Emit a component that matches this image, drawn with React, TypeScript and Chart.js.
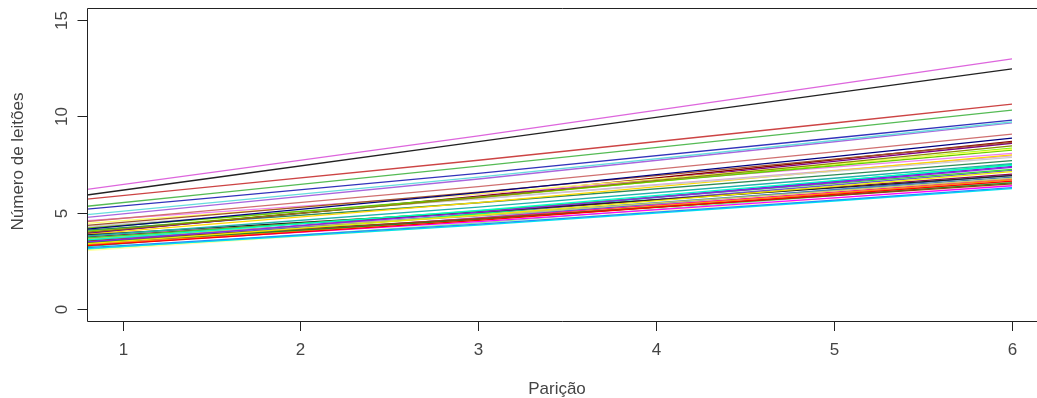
import React, { useEffect, useRef } from "react";
import { Chart, registerables } from "chart.js";

Chart.register(...registerables);

// x positions where each curve is read (left plot edge, x = 3, x = 6)
const xPoints = [0.8, 3, 6];
const xTicks = [1, 2, 3, 4, 5, 6];
const yTicks = [0, 5, 10, 15];

const lineColors = [
  "#dd66dd", "#222222", "#cc4444", "#55bb55", "#3333bb", "#66dddd", "#aa66dd",
  "#d07070", "#000080", "#a0522d", "#8b8b00", "#ffff66", "#66cc00", "#ee82ee",
  "#cccccc", "#800080", "#20b2aa", "#00ffcc", "#8a2be2", "#33dd33", "#eeee00",
  "#222222", "#cccc66", "#ff0000", "#8b4513", "#228b22", "#ff8c00", "#1e90ff",
  "#00e5ee", "#ff00ff", "#ffffaa", "#90ee90", "#8b0a50", "#4682b4", "#ff1493",
  "#9400d3", "#ffd700", "#2e8b57", "#dda0dd", "#8b0000", "#4169e1", "#00ff7f",
  "#d2b48c", "#6a5acd", "#7fff00",
];

// value at the left edge (x = 0.8)
const startValues = [
  6.21, 5.92, 5.71, 5.34, 5.19, 4.91, 4.76,
  4.55, 4.15, 4.35, 4.0, 4.45, 4.2, 4.6,
  4.3, 3.95, 3.8, 3.6, 3.5, 3.7, 3.4,
  3.85, 3.65, 3.3, 3.55, 3.45, 3.35, 3.2,
  3.15, 3.35, 3.05, 3.1, 3.75, 3.6, 3.4,
  3.5, 3.9, 4.1, 4.25, 3.95, 3.3, 3.25,
  3.7, 3.45, 4.05,
];

// value at x = 3
const midValues = [
  8.98, 8.68, 7.72, 7.42, 7.04, 6.85, 6.75,
  6.36, 6.04, 6.07, 5.79, 5.98, 5.81, 5.97,
  5.71, 5.82, 5.29, 5.13, 5.03, 5.1, 4.88,
  5.05, 4.87, 4.61, 4.7, 4.66, 4.67, 4.41,
  4.36, 4.54, 4.39, 4.48, 5.02, 4.87, 4.72,
  5.05, 5.53, 5.52, 5.72, 5.86, 4.74, 4.95,
  4.83, 4.94, 5.77,
];

// value at x = 6
const endValues = [
  12.97, 12.45, 10.62, 10.31, 9.8, 9.7, 9.65,
  9.07, 8.86, 8.65, 8.46, 8.3, 8.25, 8.08,
  7.87, 8.6, 7.55, 7.45, 7.35, 7.25, 7.13,
  6.92, 6.78, 6.64, 6.5, 6.55, 6.7, 6.3,
  6.25, 6.4, 6.45, 6.6, 7.0, 6.85, 6.75,
  7.4, 8.0, 7.7, 7.95, 8.7, 6.95, 7.5,
  6.6, 7.2, 8.35,
];

const FONT = '17px "Liberation Sans", Arial, sans-serif';
const TEXT = "#444444";
const AXIS = "#222222";

const axesPlugin = {
  id: "rAxes",
  afterDraw(chart: any) {
    const { ctx, chartArea } = chart;
    const xs = chart.scales.x;
    const ys = chart.scales.y;
    const L = chartArea.left;
    const T = chartArea.top;
    const R = chart.width + 2;
    const B = chartArea.bottom;
    ctx.save();
    ctx.strokeStyle = AXIS;
    ctx.lineWidth = 1;
    // box (left, top, bottom)
    ctx.beginPath();
    ctx.moveTo(R, T + 0.5);
    ctx.lineTo(L + 0.5, T + 0.5);
    ctx.lineTo(L + 0.5, B + 0.5);
    ctx.lineTo(R, B + 0.5);
    ctx.stroke();
    // x ticks
    ctx.fillStyle = TEXT;
    ctx.font = FONT;
    ctx.textAlign = "center";
    ctx.textBaseline = "middle";
    for (const t of xTicks) {
      const px = Math.round(xs.getPixelForValue(t)) + 0.5;
      ctx.beginPath();
      ctx.moveTo(px, B + 0.5);
      ctx.lineTo(px, B + 10);
      ctx.stroke();
      ctx.fillText(String(t), px, 350);
    }
    // y ticks
    for (const t of yTicks) {
      const py = Math.round(ys.getPixelForValue(t)) + 0.5;
      ctx.beginPath();
      ctx.moveTo(L + 0.5, py);
      ctx.lineTo(L - 9.5, py);
      ctx.stroke();
      ctx.save();
      ctx.translate(62, py);
      ctx.rotate(-Math.PI / 2);
      ctx.fillText(String(t), 0, 0);
      ctx.restore();
    }
    // axis titles
    ctx.fillText("Parição", (L + 1037) / 2 - 5, 389);
    ctx.save();
    ctx.translate(18, (T + B) / 2 - 3);
    ctx.rotate(-Math.PI / 2);
    ctx.fillText("Número de leitões", 0, 0);
    ctx.restore();
    ctx.restore();
  },
};

export default function App() {
  const ref = useRef<HTMLCanvasElement | null>(null);
  useEffect(() => {
    if (!ref.current) return;
    const datasets = lineColors.map((c, k) => ({
      label: "s" + k,
      data: xPoints.map((x, i) => ({
        x,
        y: [startValues[k], midValues[k], endValues[k]][i],
      })),
      borderColor: c,
      borderWidth: 1.3,
      pointRadius: 0,
      fill: false,
      cubicInterpolationMode: "monotone" as const,
    }));
    const chart = new Chart(ref.current, {
      type: "line",
      data: { datasets },
      options: {
        animation: false,
        responsive: false,
        devicePixelRatio: 1,
        layout: { padding: { left: 87, top: 8, right: 0, bottom: 77 } },
        plugins: { legend: { display: false }, tooltip: { enabled: false } },
        scales: {
          x: { type: "linear", min: 0.8, max: 6.1405, display: false },
          y: { type: "linear", min: -0.6, max: 15.6, display: false },
        },
      },
      plugins: [axesPlugin],
    });
    return () => chart.destroy();
  }, []);
  return (
    <div style={{ position: "absolute", left: 0, top: 0, width: 1037, height: 398, background: "#fff" }}>
      <canvas ref={ref} width={1037} height={398} style={{ display: "block" }} />
    </div>
  );
}
